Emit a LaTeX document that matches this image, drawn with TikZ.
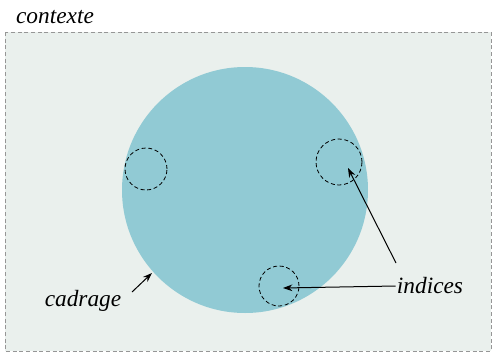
\documentclass[tikz,border=0pt]{standalone}
\usepackage{tikz}
\usepackage{xcolor}
\usepackage{fontspec}
\setmainfont{Liberation Serif}
\usetikzlibrary{arrows.meta}

\definecolor{fondctx}{RGB}{234,240,237}
\definecolor{cadre}{RGB}{145,202,212}

\tikzset{
  lbl/.style={inner sep=0.75pt,font=\fontsize{17.5}{21}\selectfont\itshape},
  indice/.style={circle,draw,densely dashed,line width=0.6pt,inner sep=0pt},
  fleche/.style={-{Stealth[length=7pt,width=5pt]},line width=0.75pt}
}

\begin{document}
\begin{tikzpicture}[x=0.75pt,y=0.75pt,yscale=-1,xscale=1]
\useasboundingbox (0,0) rectangle (494,354);

%Shape: Rectangle [id:contexte]
\draw [color={rgb, 255:red, 150; green, 150; blue, 150 },fill=fondctx,dash pattern={on 3pt off 2pt}] (5,32) rectangle (491,351);
%Shape: Circle [id:cadrage]
\fill [cadre] (245,190) circle [radius=123];

%Shape: Circle [id:indices]
\node [indice,minimum size=31.5pt] (i1) at (146,169) {};
\node [indice,minimum size=34.5pt] (i2) at (339,162) {};
\node [indice,minimum size=30pt] (i3) at (279,286) {};

% Text Node
\node [lbl] (ctx) at (55,17) {contexte};
% Text Node
\node [lbl] (cad) at (83,301) {cadrage};
% Text Node
\node [lbl] (ind) at (430,286) {indices};

\coordinate (c0) at (132,292);
\coordinate (c1) at (152,273);
\coordinate (t1) at (396,263);
\coordinate (t2) at (348,168);
\coordinate (t3) at (283,288);

%Straight Lines
\draw [fleche] (c0) -- (c1);
\draw [fleche] (t1) -- (t2);
\draw [fleche] (ind.west) -- (t3);
\end{tikzpicture}
\end{document}
